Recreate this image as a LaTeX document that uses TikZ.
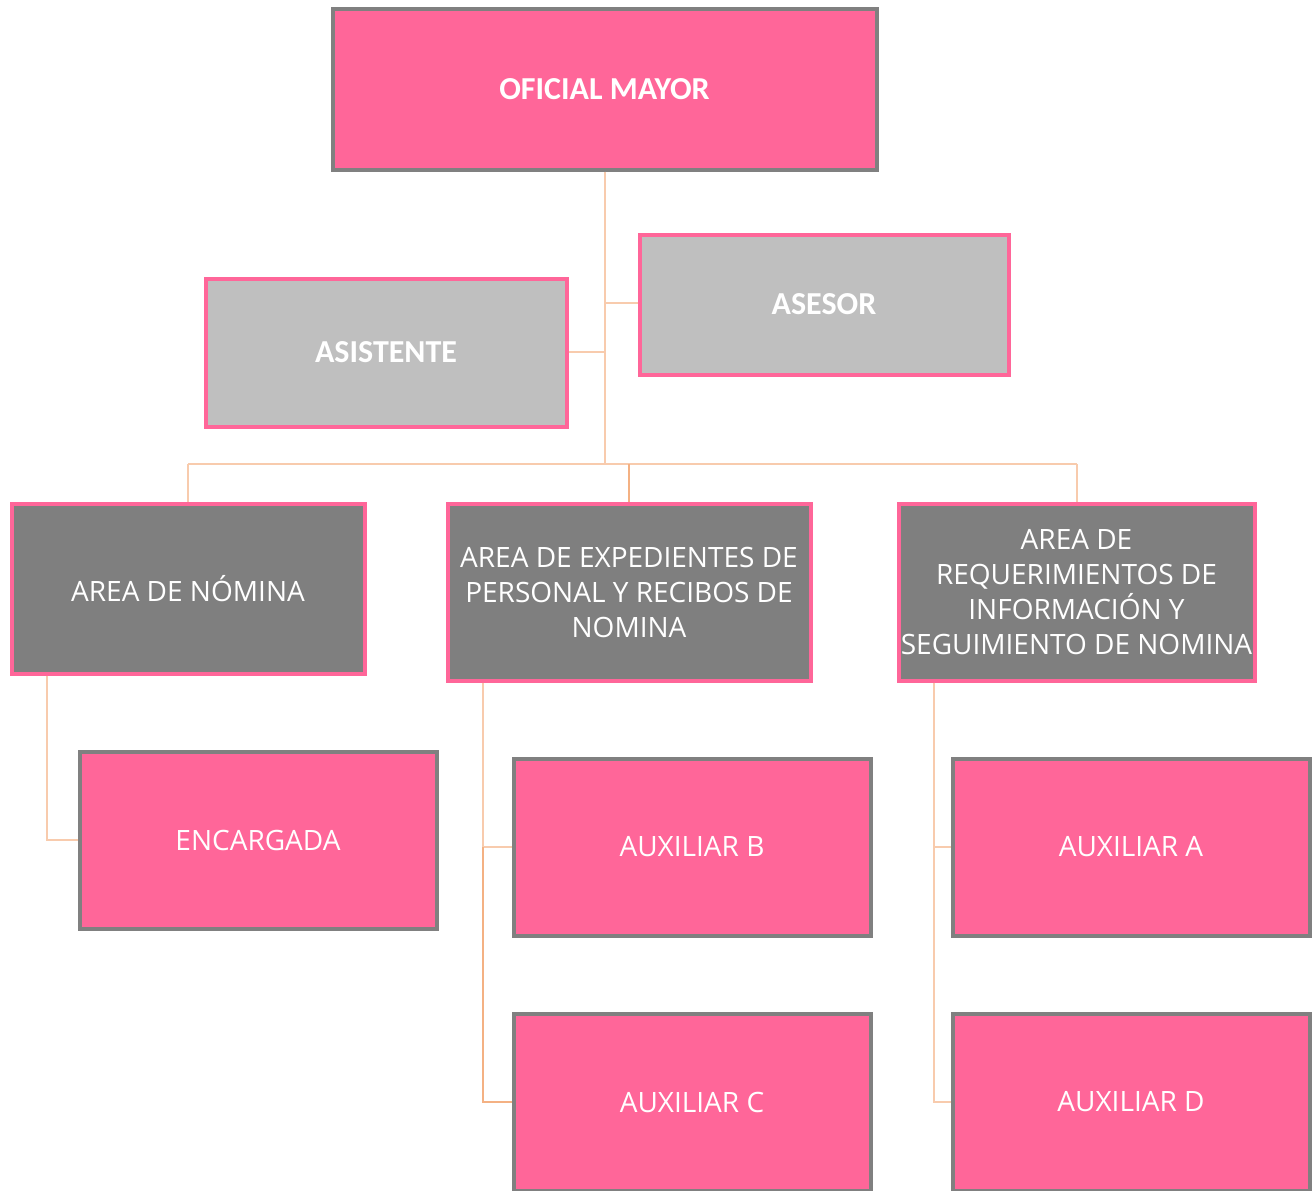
\documentclass[tikz,border=0pt]{standalone}
\usepackage{fontspec}
\setmainfont{Open Sans}
\newfontfamily\calib{Carlito}
\definecolor{pinkf}{HTML}{FF6699}
\definecolor{grayb}{HTML}{808080}
\definecolor{lgray}{HTML}{BFBFBF}
\definecolor{dgray}{HTML}{7F7F7F}
\definecolor{conn}{HTML}{F8CBAD}
\definecolor{conn2}{HTML}{F4B183}
\tikzset{
  pinkbox/.style={draw=grayb, fill=pinkf, line width=4pt, text=white, inner sep=0pt, align=center,
     font=\fontsize{28}{35}\selectfont},
  lgbox/.style={draw=pinkf, fill=lgray, line width=4pt, text=white, inner sep=0pt, align=center,
     font=\calib\bfseries\fontsize{32}{35}\selectfont},
  dgbox/.style={draw=pinkf, fill=dgray, line width=4pt, text=white, inner sep=0pt, align=center,
     font=\fontsize{28}{35}\selectfont},
  con/.style={draw=conn, line width=2pt},
  con2/.style={draw=conn2, line width=2pt},
}
\begin{document}
\begin{tikzpicture}[x=1pt,y=-1pt]
\useasboundingbox (0,0) rectangle (1312,1191);
\clip (0,0) rectangle (1312,1191);
\coordinate (t1) at (605,464);
\coordinate (hl) at (188,464);
\coordinate (hm) at (629,464);
\coordinate (hr) at (1077,464);
\coordinate (ay) at (605,303);
\coordinate (sy) at (605,352);
\node[pinkbox, minimum width=544, minimum height=161, font=\calib\bfseries\fontsize{32}{35}\selectfont] (om) at (604.5,89) {OFICIAL MAYOR};
\node[lgbox, minimum width=369, minimum height=140] (ase) at (824,304.5) {ASESOR};
\node[lgbox, minimum width=361, minimum height=148] (asi) at (386,352.5) {ASISTENTE};
\node[dgbox, minimum width=353, minimum height=170] (nom) at (188,588.5) {AREA DE NÓMINA};
\node[dgbox, minimum width=363, minimum height=177] (exp) at (629,592) {AREA DE EXPEDIENTES DE\\PERSONAL Y RECIBOS DE\\NOMINA};
\node[dgbox, minimum width=356, minimum height=177] (req) at (1076.5,592) {AREA DE\\REQUERIMIENTOS DE\\INFORMACIÓN Y\\SEGUIMIENTO DE NOMINA};
\node[pinkbox, minimum width=357, minimum height=177] (enc) at (258,840) {ENCARGADA};
\node[pinkbox, minimum width=357, minimum height=177] (auxb) at (692,847) {AUXILIAR B};
\node[pinkbox, minimum width=357, minimum height=177] (auxc) at (692,1102) {AUXILIAR C};
\node[pinkbox, minimum width=357, minimum height=177] (auxa) at (1131,847) {AUXILIAR A};
\node[pinkbox, minimum width=357, minimum height=177] (auxd) at (1131,1102) {AUXILIAR D};
\path[con] (om.south -| t1) -- (t1);
\path[con] (ay) -- (ase.west |- ay);
\path[con] (asi.east |- sy) -- (sy);
\path[con] (hl) -- (hr);
\path[con] (hl) -- (nom.north -| hl);
\path[con2] (hm) -- (exp.north);
\path[con] (hr) -- (req.north -| hr);
\coordinate (nx) at (47,0);
\path[con] (nom.south -| nx) |- (enc.west);
\coordinate (ex) at (483,0);
\path[con] (exp.south -| ex) |- (auxb.west);
\path[con2] (auxb.west -| ex) |- (auxc.west);
\coordinate (rx) at (934,0);
\path[con] (req.south -| rx) |- (auxa.west);
\path[con] (auxa.west -| rx) |- (auxd.west);
\end{tikzpicture}
\end{document}
